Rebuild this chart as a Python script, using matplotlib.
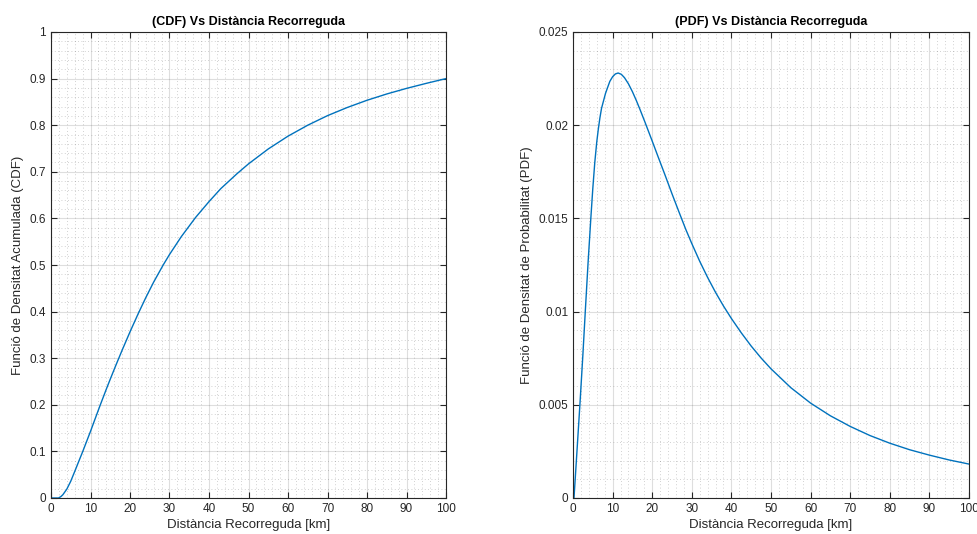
import matplotlib
matplotlib.use("Agg")
import matplotlib.pyplot as plt
from matplotlib.ticker import MultipleLocator, FuncFormatter

# CDF
cdf_x = [0, 1.9, 2.5, 3, 4, 5, 6.2, 7, 8, 9, 10, 11, 12.4, 14, 15, 16.4, 18, 20, 22.1, 24, 26,
         28.4, 30, 33, 36.6, 40, 43, 47.1, 50, 55, 60, 65, 70, 75, 80, 85, 90, 95, 100]
cdf_y = [0, 0, 0.003, 0.007, 0.019, 0.036, 0.061, 0.078, 0.099, 0.121, 0.143, 0.166, 0.198,
         0.2335, 0.255, 0.2844, 0.317, 0.3565, 0.396, 0.430, 0.4635, 0.500, 0.5225, 0.561,
         0.602, 0.636, 0.664, 0.696, 0.717, 0.749, 0.7765, 0.800, 0.8205, 0.838, 0.8535,
         0.867, 0.879, 0.8898, 0.900]

# PDF
pdf_x = [0.25, 1, 1.8, 2.5, 3.1, 3.8, 4.5, 5.0, 5.5, 6.0, 6.4, 6.8, 7.2, 7.7, 8.2, 8.7, 9.3, 10,
         10.7, 11.4, 12.2, 13, 14, 15, 16, 17, 18.2, 20, 21.5, 23.2, 25, 26.9, 28.5, 30, 32,
         34, 36, 38, 40, 42.5, 45, 47.5, 50, 55, 60, 65, 70, 75, 80, 85, 90, 95, 100]
pdf_y = [0, 0.0025, 0.0052, 0.0077, 0.0100, 0.0126, 0.0150, 0.0166, 0.0180, 0.0191, 0.0198,
         0.0204, 0.0209, 0.0213, 0.0217, 0.0220, 0.02235, 0.0226, 0.02275, 0.0228, 0.02273,
         0.02255, 0.02222, 0.02180, 0.02132, 0.02080, 0.02015, 0.01915, 0.01830, 0.01735,
         0.01632, 0.01527, 0.01440, 0.01365, 0.01270, 0.01183, 0.01103, 0.01030, 0.00963,
         0.00886, 0.00815, 0.00751, 0.00693, 0.00592, 0.00509, 0.00441, 0.00384, 0.00335,
         0.00294, 0.00259, 0.00230, 0.00204, 0.00182]

cdf_yticks = [0, 0.1, 0.2, 0.3, 0.4, 0.5, 0.6, 0.7, 0.8, 0.9, 1]
pdf_yticks = [0, 0.005, 0.01, 0.015, 0.02, 0.025]
xticks = [0, 10, 20, 30, 40, 50, 60, 70, 80, 90, 100]

plt.rcParams['font.family'] = ['Liberation Sans', 'DejaVu Sans']
line_col = '#0072BD'
txt_col = '#262626'

fig = plt.figure(figsize=(9.78, 5.34), dpi=100)
ax1 = fig.add_axes([51/978, 36/534, 395/978, 466/534])
ax2 = fig.add_axes([573/978, 36/534, 396/978, 466/534])

fmt = FuncFormatter(lambda v, p: ('%g' % round(v, 6)))

def style(ax, yticks, yminor, title, ylabel):
    ax.set_xlim(0, 100)
    ax.set_ylim(yticks[0], yticks[-1])
    ax.set_xticks(xticks)
    ax.set_yticks(yticks)
    ax.xaxis.set_major_formatter(fmt)
    ax.yaxis.set_major_formatter(fmt)
    ax.xaxis.set_minor_locator(MultipleLocator(2))
    ax.yaxis.set_minor_locator(MultipleLocator(yminor))
    ax.grid(True, which='major', color='#262626', alpha=0.15, linewidth=0.8, linestyle='-')
    ax.grid(True, which='minor', color='#262626', alpha=0.28, linewidth=0.6, linestyle=(0, (1, 3)))
    ax.set_axisbelow(True)
    ax.tick_params(which='major', direction='in', length=4, width=0.8, top=True, right=True,
                   labelsize=8.5, colors=txt_col)
    ax.tick_params(which='minor', length=0, top=True, right=True)
    for s in ax.spines.values():
        s.set_color(txt_col)
        s.set_linewidth(0.8)
    ax.set_title(title, fontsize=9, fontweight='bold', color='black', pad=5)
    ax.set_xlabel('Distància Recorreguda [km]', fontsize=9.5, color=txt_col, labelpad=3)
    ax.set_ylabel(ylabel, fontsize=9.5, color=txt_col, labelpad=4)

ax1.plot(cdf_x, cdf_y, color=line_col, linewidth=1.0)
style(ax1, cdf_yticks, 0.02, '(CDF) Vs Distància Recorreguda', 'Funció de Densitat Acumulada (CDF)')

ax2.plot(pdf_x, pdf_y, color=line_col, linewidth=1.0)
style(ax2, pdf_yticks, 0.001, '(PDF) Vs Distància Recorreguda', 'Funció de Densitat de Probabilitat (PDF)')

fig.savefig('out.png', dpi=100)
